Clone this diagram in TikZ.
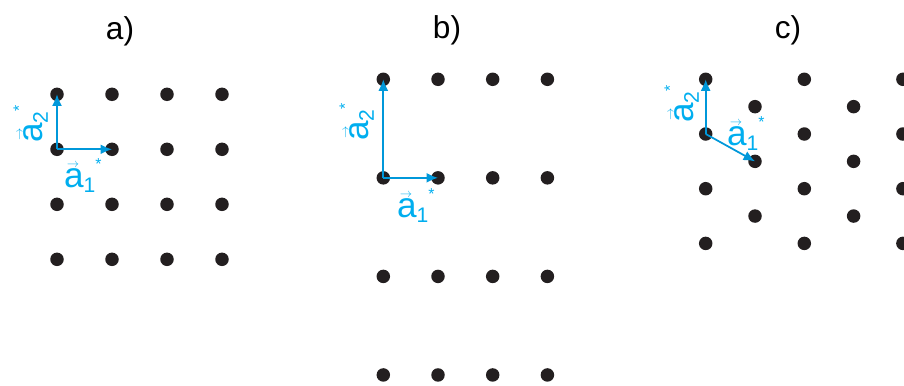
\documentclass[tikz,border=0pt]{standalone}
\usepackage{fontspec}
\setmainfont{Liberation Sans}
\usepackage{graphicx}
\usetikzlibrary{arrows.meta}
\definecolor{dotblack}{RGB}{35,31,32}
\definecolor{vecblue}{RGB}{0,152,218}
\definecolor{labcyan}{RGB}{0,174,239}

% reciprocal vector label: arrow over a, index, star
\newcommand{\recvec}[1]{%
  \makebox[0pt][l]{\hspace{0.08em}\raisebox{0.55em}{\scalebox{0.7}{$\scriptscriptstyle\rightarrow$}}}%
  a\raisebox{-0.17em}{\fontsize{12}{12}\selectfont #1}%
  \raisebox{0.5em}{\fontsize{9}{9}\selectfont *}}

\begin{document}
\begin{tikzpicture}[
    latdot/.style={circle, fill=dotblack, inner sep=0pt, minimum size=0.27cm},
    recarrow/.style={vecblue, line width=1pt, -{Latex[length=2.3mm,width=2mm]}},
    veclabel/.style={text=labcyan, inner sep=0pt, font=\fontsize{20}{24}\selectfont, anchor=base west},
    paneltitle/.style={font=\fontsize{18}{22}\selectfont}
  ]
  \useasboundingbox (0,0) rectangle (18.08,7.7);

  % Titles
  \node[paneltitle] (ta) at (2.4,7.08) {a)};
  \node[paneltitle] (tb) at (8.94,7.1) {b)};
  \node[paneltitle] (tc) at (15.76,7.1) {c)};

  % a) square lattice
  \foreach \i in {0,...,3}
    \foreach \j in {0,...,3}
      \node[latdot] (a-\i-\j) at (1.14+1.1*\i, 5.814-1.1*\j) {};
  \draw[recarrow] (a-0-1.center) -- (a-1-1.center);
  \draw[recarrow] (a-0-1.center) -- (a-0-0.center);
  \node[veclabel] (la1) at (1.274,3.96) {\recvec{1}};
  \node[veclabel, rotate=90] (la2) at (0.84,4.834) {\recvec{2}};

  % b) rectangular lattice
  \foreach \i in {0,...,3}
    \foreach \j in {0,...,3}
      \node[latdot] (b-\i-\j) at (7.666+1.094*\i, 6.114-1.971*\j) {};
  \draw[recarrow] (b-0-1.center) -- (b-1-1.center);
  \draw[recarrow] (b-0-1.center) -- (b-0-0.center);
  \node[veclabel] (lb1) at (7.934,3.36) {\recvec{1}};
  \node[veclabel, rotate=90] (lb2) at (7.36,4.874) {\recvec{2}};

  % c) hexagonal lattice
  \foreach \i in {0,2,4}
    \foreach \j in {0,...,3}
      \node[latdot] (c-\i-\j) at (14.114+0.986*\i, 6.114-1.094*\j) {};
  \foreach \i in {1,3}
    \foreach \j in {0,...,2}
      \node[latdot] (c-\i-\j) at (14.114+0.986*\i, 5.567-1.094*\j) {};
  \draw[recarrow] (c-0-1.center) -- (c-1-1.center);
  \draw[recarrow] (c-0-1.center) -- (c-0-0.center);
  \node[veclabel] (lc1) at (14.534,4.8) {\recvec{1}};
  \node[veclabel, rotate=90] (lc2) at (13.86,5.234) {\recvec{2}};
\end{tikzpicture}
\end{document}
